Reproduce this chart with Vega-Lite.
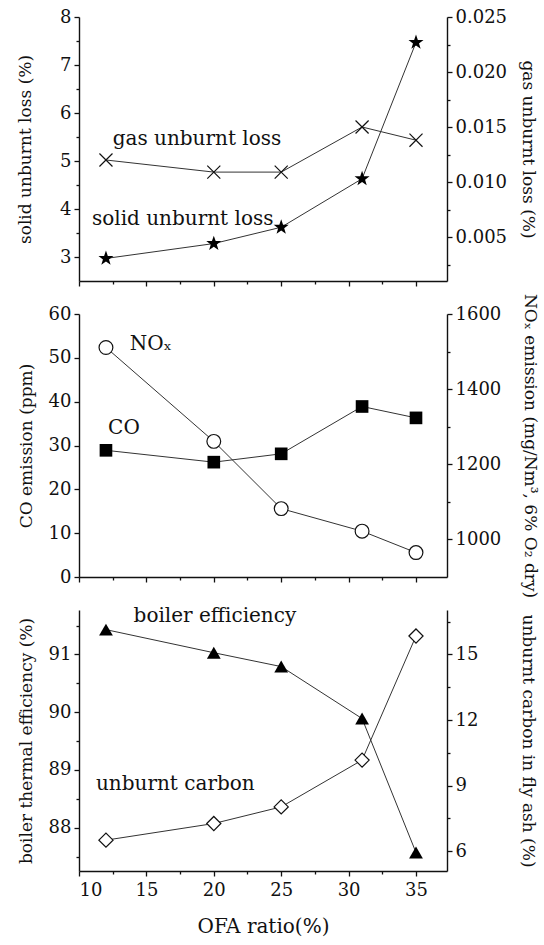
{
  "$schema": "https://vega.github.io/schema/vega-lite/v6.json",
  "padding": {"left": 16, "top": 8, "right": 5, "bottom": 3},
  "bounds": "flush",
  "spacing": 33,
  "datasets": {
    "loss": [
      {"ofa": 12, "solid": 2.97, "gas": 0.0120},
      {"ofa": 20, "solid": 3.28, "gas": 0.0109},
      {"ofa": 25, "solid": 3.62, "gas": 0.0109},
      {"ofa": 31, "solid": 4.63, "gas": 0.0150},
      {"ofa": 35, "solid": 7.47, "gas": 0.0138}
    ],
    "emission": [
      {"ofa": 12, "co": 28.9, "nox": 1511},
      {"ofa": 20, "co": 26.2, "nox": 1261},
      {"ofa": 25, "co": 28.1, "nox": 1082},
      {"ofa": 31, "co": 38.9, "nox": 1022},
      {"ofa": 35, "co": 36.3, "nox": 965}
    ],
    "efficiency": [
      {"ofa": 12, "eff": 91.43, "carbon": 6.51},
      {"ofa": 20, "eff": 91.03, "carbon": 7.27},
      {"ofa": 25, "eff": 90.79, "carbon": 8.03},
      {"ofa": 31, "eff": 89.89, "carbon": 10.17},
      {"ofa": 35, "eff": 87.57, "carbon": 15.84}
    ]
  },
  "config": {
    "font": "DejaVu Serif",
    "view": {"stroke": null},
    "axis": {
      "grid": false,
      "domainColor": "#111",
      "domainWidth": 1.4,
      "tickColor": "#111",
      "tickWidth": 1.3,
      "labelFont": "DejaVu Serif",
      "labelFontSize": 18,
      "labelColor": "#111",
      "labelPadding": 3,
      "titleFont": "DejaVu Serif",
      "titleFontSize": 17,
      "titleFontWeight": "normal",
      "titleColor": "#111"
    },
    "line": {"color": "#333", "strokeWidth": 1},
    "text": {"font": "DejaVu Serif", "fontSize": 20, "color": "#111", "align": "left", "baseline": "middle"}
  },
  "vconcat": [
    {
      "width": 368,
      "height": 264,
      "resolve": {"scale": {"y": "independent"}},
      "layer": [
        {
          "data": {"name": "loss"},
          "encoding": {
            "x": {"field": "ofa", "type": "quantitative",
                  "scale": {"domain": [10, 37.3], "nice": false, "zero": false},
                  "axis": {"values": [10, 12.5, 15, 17.5, 20, 22.5, 25, 27.5, 30, 32.5, 35], "labels": false, "title": null,
                           "tickSize": {"condition": {"test": "datum.value % 5 !== 0", "value": 3}, "value": 5}}},
            "y": {"field": "solid", "type": "quantitative",
                  "scale": {"domain": [2.5, 8], "nice": false, "zero": false},
                  "axis": {"orient": "left", "title": "solid unburnt loss (%)", "titlePadding": 25,
                           "values": [3, 3.5, 4, 4.5, 5, 5.5, 6, 6.5, 7, 7.5, 8],
                           "labelExpr": "datum.value % 1 === 0 ? '' + datum.value : ''",
                           "tickSize": {"condition": {"test": "datum.value % 1 !== 0", "value": 3}, "value": 5}}}
          },
          "layer": [
            {"mark": {"type": "line"}},
            {"mark": {"type": "point",
                      "shape": "M0,-1L0.235,-0.324L0.951,-0.309L0.38,0.124L0.588,0.809L0,0.4L-0.588,0.809L-0.38,0.124L-0.951,-0.309L-0.235,-0.324Z",
                      "filled": true, "color": "#000", "size": 250, "opacity": 1}},
            {
              "data": {"values": [{"ofa": 10.96, "solid": 3.79, "label": "solid unburnt loss"}]},
              "mark": {"type": "text"},
              "encoding": {"text": {"field": "label"}}
            }
          ]
        },
        {
          "data": {"name": "loss"},
          "encoding": {
            "x": {"field": "ofa", "type": "quantitative",
                  "scale": {"domain": [10, 37.3], "nice": false, "zero": false},
                  "axis": {"values": [10, 12.5, 15, 17.5, 20, 22.5, 25, 27.5, 30, 32.5, 35], "labels": false, "title": null,
                           "tickSize": {"condition": {"test": "datum.value % 5 !== 0", "value": 3}, "value": 5}}},
            "y": {"field": "gas", "type": "quantitative",
                  "scale": {"domain": [0.001, 0.025], "nice": false, "zero": false},
                  "axis": {"orient": "right", "title": "gas unburnt loss (%)", "titlePadding": 12, "format": ".3f",
                           "values": [0.0025, 0.005, 0.0075, 0.01, 0.0125, 0.015, 0.0175, 0.02, 0.0225, 0.025],
                           "labelExpr": "abs(datum.value * 200 - round(datum.value * 200)) < 0.001 ? datum.label : ''",
                           "tickSize": {"condition": {"test": "abs(datum.value * 200 - round(datum.value * 200)) > 0.001", "value": 3}, "value": 5}}}
          },
          "layer": [
            {"mark": {"type": "line"}},
            {"mark": {"type": "point", "shape": "M-1,-1L1,1M-1,1L1,-1", "filled": false, "color": "#111", "strokeWidth": 1.2, "size": 170, "opacity": 1}},
            {
              "data": {"values": [{"ofa": 12.5, "gas": 0.0139, "label": "gas unburnt loss"}]},
              "mark": {"type": "text"},
              "encoding": {"text": {"field": "label"}}
            }
          ]
        }
      ]
    },
    {
      "width": 368,
      "height": 263,
      "resolve": {"scale": {"y": "independent"}},
      "layer": [
        {
          "data": {"name": "emission"},
          "encoding": {
            "x": {"field": "ofa", "type": "quantitative",
                  "scale": {"domain": [10, 37.3], "nice": false, "zero": false},
                  "axis": {"values": [10, 12.5, 15, 17.5, 20, 22.5, 25, 27.5, 30, 32.5, 35], "labels": false, "title": null,
                           "tickSize": {"condition": {"test": "datum.value % 5 !== 0", "value": 3}, "value": 5}}},
            "y": {"field": "co", "type": "quantitative",
                  "scale": {"domain": [0, 60], "nice": false, "zero": false},
                  "axis": {"orient": "left", "title": "CO emission (ppm)", "titlePadding": 13,
                           "values": [0, 10, 20, 30, 40, 50, 60], "tickSize": 5}}
          },
          "layer": [
            {"mark": {"type": "line"}},
            {"mark": {"type": "point", "shape": "square", "filled": true, "color": "#000", "size": 160, "opacity": 1}},
            {
              "data": {"values": [{"ofa": 12.16, "co": 34.0, "label": "CO"}]},
              "mark": {"type": "text"},
              "encoding": {"text": {"field": "label"}}
            }
          ]
        },
        {
          "data": {"name": "emission"},
          "encoding": {
            "x": {"field": "ofa", "type": "quantitative",
                  "scale": {"domain": [10, 37.3], "nice": false, "zero": false},
                  "axis": {"values": [10, 12.5, 15, 17.5, 20, 22.5, 25, 27.5, 30, 32.5, 35], "labels": false, "title": null,
                           "tickSize": {"condition": {"test": "datum.value % 5 !== 0", "value": 3}, "value": 5}}},
            "y": {"field": "nox", "type": "quantitative",
                  "scale": {"domain": [900, 1600], "nice": false, "zero": false},
                  "axis": {"orient": "right", "title": "NOₓ emission (mg/Nm³, 6% O₂ dry)", "titlePadding": 20,
                           "values": [1000, 1100, 1200, 1300, 1400, 1500, 1600],
                           "labelExpr": "datum.value % 200 === 0 ? '' + datum.value : ''",
                           "tickSize": {"condition": {"test": "datum.value % 200 !== 0", "value": 3}, "value": 5}}}
          },
          "layer": [
            {"mark": {"type": "line"}},
            {"mark": {"type": "point", "shape": "circle", "filled": true, "fill": "#fff", "stroke": "#111", "strokeWidth": 1.2, "size": 190, "opacity": 1}},
            {
              "data": {"values": [{"ofa": 13.76, "nox": 1520, "label": "NOₓ"}]},
              "mark": {"type": "text"},
              "encoding": {"text": {"field": "label"}}
            }
          ]
        }
      ]
    },
    {
      "width": 368,
      "height": 261,
      "resolve": {"scale": {"y": "independent"}},
      "layer": [
        {
          "data": {"name": "efficiency"},
          "encoding": {
            "x": {"field": "ofa", "type": "quantitative",
                  "scale": {"domain": [10, 37.3], "nice": false, "zero": false},
                  "axis": {"values": [10, 12.5, 15, 17.5, 20, 22.5, 25, 27.5, 30, 32.5, 35], "title": "OFA ratio(%)",
                           "titleFontSize": 20, "titlePadding": 17, "labelPadding": 5,
                           "labelExpr": "datum.value % 5 === 0 ? '' + datum.value : ''",
                           "tickSize": {"condition": {"test": "datum.value % 5 !== 0", "value": 3}, "value": 5}}},
            "y": {"field": "eff", "type": "quantitative",
                  "scale": {"domain": [87.25, 91.77], "nice": false, "zero": false},
                  "axis": {"orient": "left", "title": "boiler thermal efficiency (%)", "titlePadding": 13,
                           "values": [87.5, 88, 88.5, 89, 89.5, 90, 90.5, 91, 91.5],
                           "labelExpr": "datum.value % 1 === 0 ? '' + datum.value : ''",
                           "tickSize": {"condition": {"test": "datum.value % 1 !== 0", "value": 3}, "value": 5}}}
          },
          "layer": [
            {"mark": {"type": "line"}},
            {"mark": {"type": "point", "shape": "triangle-up", "filled": true, "color": "#000", "size": 190, "opacity": 1}},
            {
              "data": {"values": [
                {"ofa": 14.05, "eff": 91.67, "label": "boiler efficiency"},
                {"ofa": 11.26, "eff": 88.75, "label": "unburnt carbon"}
              ]},
              "mark": {"type": "text"},
              "encoding": {"text": {"field": "label"}}
            }
          ]
        },
        {
          "data": {"name": "efficiency"},
          "encoding": {
            "x": {"field": "ofa", "type": "quantitative",
                  "scale": {"domain": [10, 37.3], "nice": false, "zero": false},
                  "axis": {"values": [10, 12.5, 15, 17.5, 20, 22.5, 25, 27.5, 30, 32.5, 35], "title": "OFA ratio(%)",
                           "titleFontSize": 20, "titlePadding": 17, "labelPadding": 5,
                           "labelExpr": "datum.value % 5 === 0 ? '' + datum.value : ''",
                           "tickSize": {"condition": {"test": "datum.value % 5 !== 0", "value": 3}, "value": 5}}},
            "y": {"field": "carbon", "type": "quantitative",
                  "scale": {"domain": [5.1, 17.03], "nice": false, "zero": false},
                  "axis": {"orient": "right", "title": "unburnt carbon in fly ash (%)", "titlePadding": 41,
                           "values": [6, 7.5, 9, 10.5, 12, 13.5, 15, 16.5],
                           "labelExpr": "datum.value % 3 === 0 ? '' + datum.value : ''",
                           "tickSize": {"condition": {"test": "datum.value % 3 !== 0", "value": 3}, "value": 5}}}
          },
          "layer": [
            {"mark": {"type": "line"}},
            {"mark": {"type": "point", "shape": "diamond", "filled": true, "fill": "#fff", "stroke": "#111", "strokeWidth": 1.2, "size": 200, "opacity": 1}}
          ]
        }
      ]
    }
  ]
}
